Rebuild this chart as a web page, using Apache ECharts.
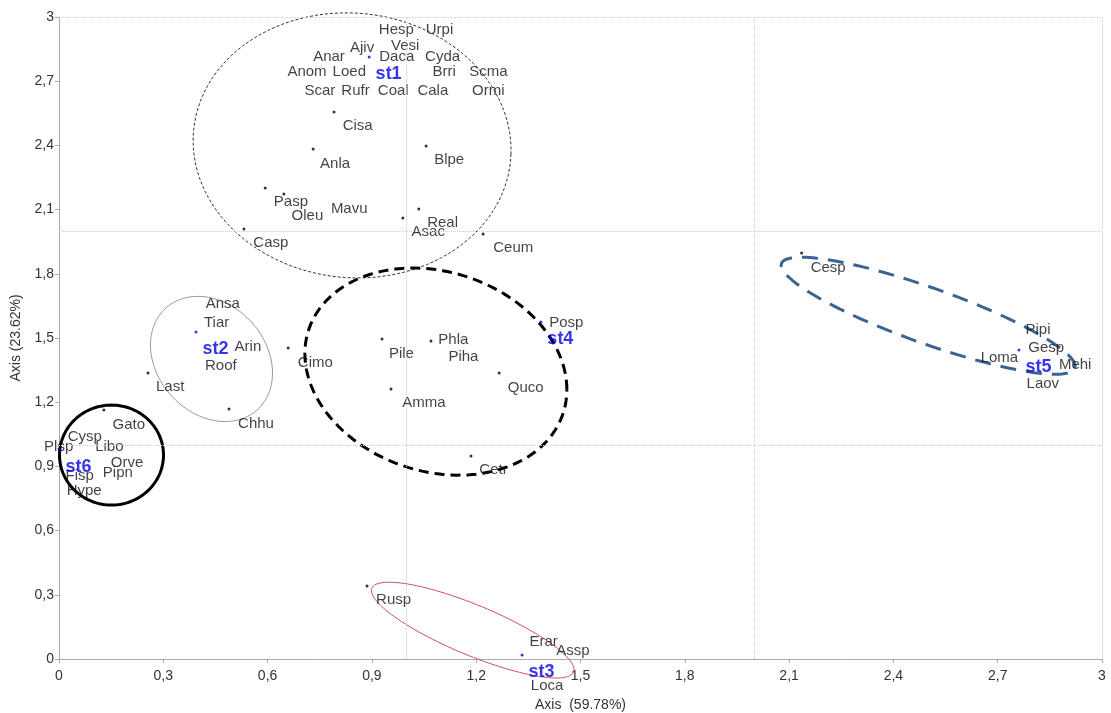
<!DOCTYPE html>
<html>
<head>
<meta charset="utf-8">
<script src="https://cdn.jsdelivr.net/npm/echarts@6/dist/echarts.min.js"></script>
<style>
html,body{margin:0;padding:0;background:#fff;}
#chart{width:1111px;height:713px;}
</style>
</head>
<body>
<div id="chart"></div>
<script>
// Axis ticks
var tickInterval = 0.3;
var axisMin = 0, axisMax = 3;
var gridLinesX = [1, 2, 3];
var gridLinesY = [1, 2, 3];
var xAxisTitle = 'Axis  (59.78%)';
var yAxisTitle = 'Axis (23.62%)';

// Species point scores (dots)
var speciesDots = [
  [0.791,2.556],[0.731,2.383],[1.056,2.397],[0.593,2.201],[0.647,2.173],
  [0.532,2.009],[0.989,2.061],[1.035,2.103],[1.220,1.986],[0.256,1.336],
  [0.489,1.168],[0.659,1.453],[0.929,1.495],[1.070,1.486],[0.955,1.262],
  [1.266,1.336],[1.185,0.949],[0.129,1.164],[0.886,0.341],[2.136,1.897]
];

// Species labels (name, x, y of label)
var speciesLabels = [
  ['Hesp',0.920,2.939],['Urpi',1.055,2.939],['Ajiv',0.837,2.858],['Vesi',0.955,2.864],
  ['Anar',0.731,2.815],['Daca',0.921,2.815],['Cyda',1.053,2.815],
  ['Anom',0.657,2.743],['Loed',0.787,2.743],['Brri',1.074,2.744],['Scma',1.180,2.743],
  ['Scar',0.706,2.656],['Rufr',0.812,2.656],['Coal',0.917,2.656],['Cala',1.031,2.656],['Ormi',1.188,2.656],
  ['Cisa',0.816,2.491],['Anla',0.751,2.316],['Blpe',1.079,2.332],['Pasp',0.618,2.137],
  ['Oleu',0.669,2.071],['Mavu',0.782,2.104],['Real',1.059,2.039],['Asac',1.014,1.997],
  ['Casp',0.559,1.943],['Ceum',1.249,1.922],['Cesp',2.162,1.826],
  ['Ansa',0.422,1.659],['Tiar',0.417,1.573],['Arin',0.505,1.459],['Roof',0.420,1.369],
  ['Last',0.279,1.270],['Chhu',0.515,1.101],['Cimo',0.687,1.385],
  ['Pile',0.949,1.425],['Phla',1.091,1.491],['Piha',1.120,1.413],['Amma',0.987,1.195],
  ['Quco',1.291,1.268],['Cetr',1.209,0.886],['Posp',1.410,1.573],
  ['Gato',0.154,1.093],['Plsp',-0.043,0.992],['Cysp',0.025,1.039],['Libo',0.104,0.989],
  ['Orve',0.149,0.917],['Pipn',0.126,0.871],['Fisp',0.019,0.855],['Hype',0.022,0.786],
  ['Rusp',0.912,0.276],['Erar',1.353,0.081],['Assp',1.430,0.037],['Loca',1.357,-0.126],
  ['Pipi',2.780,1.537],['Gesp',2.788,1.452],['Loma',2.651,1.408],['Mehi',2.876,1.374],['Laov',2.783,1.285]
];

// Sites (name, x, y)
var sites = [
  ['st1',0.892,2.813],['st2',0.394,1.528],['st3',1.332,0.019],
  ['st4',1.386,1.575],['st5',2.761,1.444],['st6',0.000,0.981]
];

// Ellipses: centre (cx, cy) and conjugate semi-axis vectors u, v (data units)
var ellipses = [
  [0.843,2.400, 0.4570,-0.0420, 0.0144,0.618],   // st1
  [0.4386,1.402, 0.1755,-0.0654, 0.0,0.285],     // st2
  [1.190,0.135, 0.2900,-0.1960, 0.0280,0.1080],  // st3
  [1.084,1.343, 0.3768,-0.0841, 0.0,0.4766],     // st4
  [2.500,1.604, 0.422,-0.2440, 0.0262,0.1230],   // st5
  [0.151,0.953, 0.1496,0.0, 0.0,0.2336]          // st6
];
var ellipseStyles = [
  {stroke:'#333', lineWidth:1, lineDash:[3,2]},
  {stroke:'#999', lineWidth:1, lineDash:null},
  {stroke:'#cc5555', lineWidth:1, lineDash:null},
  {stroke:'#000', lineWidth:3, lineDash:[10,6]},
  {stroke:'#3d6391', lineWidth:3, lineDash:[16,10]},
  {stroke:'#000', lineWidth:3, lineDash:null}
];

var fmt = function (v) { return String(Math.round(v*10)/10).replace('.', ','); };

var chart = echarts.init(document.getElementById('chart'));
var font = "'Liberation Sans', Arial, sans-serif";

var option = {
  animation: false,
  backgroundColor: '#fff',
  grid: {left: 59, right: 9, top: 17, bottom: 54, containLabel: false, outerBoundsMode: 'none'},
  xAxis: {
    type: 'value', min: axisMin, max: axisMax, interval: tickInterval,
    name: xAxisTitle, nameLocation: 'middle', nameGap: 39,
    nameTextStyle: {color: '#333', fontSize: 14, fontFamily: font},
    axisLine: {show: true, lineStyle: {color: '#aaa'}},
    axisTick: {show: true, length: 4, lineStyle: {color: '#aaa'}},
    axisLabel: {color: '#333', fontSize: 14, fontFamily: font, margin: 10, formatter: fmt},
    splitLine: {show: false}
  },
  yAxis: {
    type: 'value', min: axisMin, max: axisMax, interval: tickInterval,
    name: yAxisTitle, nameLocation: 'middle', nameGap: 33,
    nameTextStyle: {color: '#333', fontSize: 14, fontFamily: font},
    axisLine: {show: true, lineStyle: {color: '#aaa'}},
    axisTick: {show: true, length: 4, lineStyle: {color: '#aaa'}},
    axisLabel: {color: '#333', fontSize: 14, fontFamily: font, margin: 5, formatter: fmt},
    splitLine: {show: false}
  },
  series: [
    {
      type: 'custom',
      clip: false,
      silent: true,
      z: 2,
      data: ellipses,
      renderItem: function (params, api) {
        var cx = api.value(0), cy = api.value(1);
        var ux = api.value(2), uy = api.value(3);
        var vx = api.value(4), vy = api.value(5);
        var pts = [];
        var n = 120;
        for (var i = 0; i <= n; i++) {
          var t = i / n * Math.PI * 2;
          pts.push(api.coord([cx + ux*Math.cos(t) + vx*Math.sin(t), cy + uy*Math.cos(t) + vy*Math.sin(t)]));
        }
        var st = ellipseStyles[params.dataIndex];
        return {
          type: 'polyline',
          shape: {points: pts},
          style: {fill: null, stroke: st.stroke, lineWidth: st.lineWidth, lineDash: st.lineDash}
        };
      }
    },
    {
      type: 'scatter',
      silent: true,
      clip: false,
      z: 3,
      symbolSize: 3,
      itemStyle: {color: '#000'},
      data: speciesDots,
      markLine: {
        silent: true,
        symbol: 'none',
        label: {show: false},
        lineStyle: {type: 'dotted', color: '#cfcfcf', width: 1},
        data: gridLinesX.map(function (v) { return {xAxis: v}; })
          .concat(gridLinesY.map(function (v) { return {yAxis: v}; }))
      }
    },
    {
      type: 'scatter',
      silent: true,
      clip: false,
      z: 4,
      symbolSize: 0,
      data: speciesLabels.map(function (d) { return {name: d[0], value: [d[1], d[2]]}; }),
      label: {
        show: true, position: [0, 0], align: 'left', verticalAlign: 'middle',
        formatter: '{b}', color: '#111', fontSize: 15, fontFamily: font
      }
    },
    {
      type: 'scatter',
      silent: true,
      clip: false,
      z: 5,
      symbolSize: 3,
      itemStyle: {color: '#0000ee'},
      data: sites.map(function (d) { return {name: d[0], value: [d[1], d[2]]}; }),
      label: {
        show: true, position: [8, 19], align: 'left', verticalAlign: 'middle',
        formatter: '{b}', color: '#0000ee', fontSize: 18, fontWeight: 'bold', fontFamily: font
      }
    }
  ]
};
chart.setOption(option);
</script>
</body>
</html>
